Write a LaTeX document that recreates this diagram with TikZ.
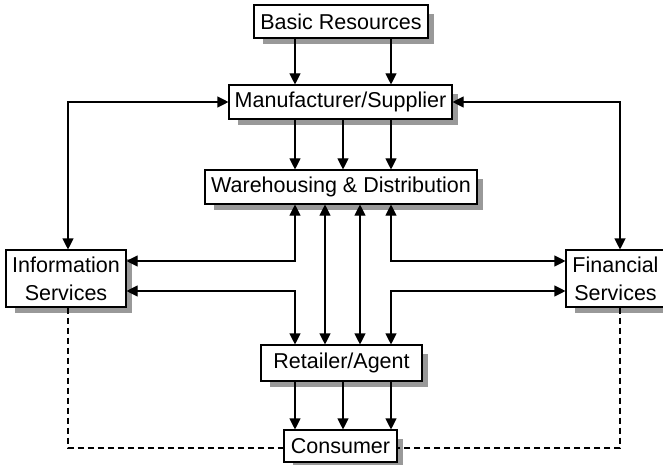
\documentclass[tikz,border=0pt]{standalone}
\usepackage{fontspec}
\setmainfont{Liberation Sans}
\usetikzlibrary{arrows.meta,backgrounds}
\definecolor{shadowgray}{gray}{0.6}
\tikzset{
  blk/.style={draw=black, line width=1.1pt, fill=white, inner sep=0pt,
    font=\fontsize{21.5}{28}\selectfont, align=center},
  tip/.tip={Triangle[length=11pt,width=11pt]},
  flow/.style={line width=1.1pt, -tip},
  flow2/.style={line width=1.1pt, tip-tip},
  dashlink/.style={line width=1.1pt, dash pattern=on 6pt off 4pt},
}
\begin{document}
\begin{tikzpicture}[x=1pt,y=-1pt]
\useasboundingbox (0,0) rectangle (663,465);

% boxes
\node[blk, minimum width=174pt, minimum height=33pt] (br)   at (341,21.5)  {Basic Resources};
\node[blk, minimum width=223pt, minimum height=34pt] (ms)   at (340.5,102) {Manufacturer/Supplier};
\node[blk, minimum width=272pt, minimum height=34pt] (wd)   at (341,187)   {Warehousing \& Distribution};
\node[blk, minimum width=120pt, minimum height=57pt] (info) at (66,278.5)  {Information\\Services};
\node[blk, minimum width=99pt,  minimum height=57pt] (fin)  at (615.5,278.5) {Financial\\Services};
\node[blk, minimum width=161pt, minimum height=36pt] (ra)   at (341.5,363) {Retailer/Agent};
\node[blk, minimum width=113pt, minimum height=32pt] (cons) at (340.5,446) {Consumer};

% shadows behind the boxes
\begin{scope}[on background layer]
  \foreach \n in {br,ms,wd,info,fin,ra,cons}
    \fill[shadowgray] ([shift={(10,10)}]\n.north west) rectangle ([shift={(5,5)}]\n.south east);
\end{scope}

% column and row guides
\coordinate (xl) at (68,0);
\coordinate (xr) at (620,0);
\coordinate (a1) at (295,0);
\coordinate (a2) at (343,0);
\coordinate (a3) at (391,0);
\coordinate (b2) at (325,0);
\coordinate (b3) at (360,0);
\coordinate (y1) at (0,261);
\coordinate (y2) at (0,291);
\coordinate (yd) at (0,448);

% basic resources -> manufacturer
\draw[flow] (br.south -| a1) -- (ms.north -| a1);
\draw[flow] (br.south -| a3) -- (ms.north -| a3);

% manufacturer -> warehousing
\foreach \c in {a1,a2,a3}
  \draw[flow] (ms.south -| \c) -- (wd.north -| \c);

% service links to manufacturer
\draw[flow2] (ms.west) -| (info.north -| xl);
\draw[flow2] (ms.east) -| (fin.north -| xr);

% warehousing <-> services
\draw[flow2] (wd.south -| a1) |- (info.east |- y1);
\draw[flow2] (wd.south -| a3) |- (fin.west |- y1);

% services <-> retailer
\draw[flow2] (info.east |- y2) -| (ra.north -| a1);
\draw[flow2] (fin.west |- y2) -| (ra.north -| a3);

% warehousing <-> retailer
\draw[flow2] (wd.south -| b2) -- (ra.north -| b2);
\draw[flow2] (wd.south -| b3) -- (ra.north -| b3);

% retailer -> consumer
\foreach \c in {a1,a2,a3}
  \draw[flow] (ra.south -| \c) -- (cons.north -| \c);

% dashed feedback from consumer to services
\draw[dashlink] (info.south -| xl) |- (cons.west |- yd);
\draw[dashlink] (fin.south -| xr) |- (cons.east |- yd);
\end{tikzpicture}
\end{document}
